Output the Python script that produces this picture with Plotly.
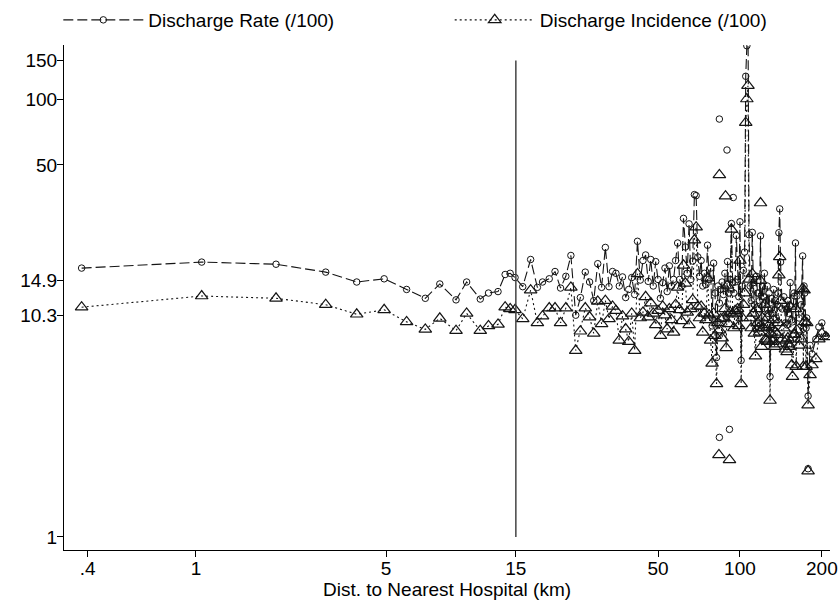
import plotly.graph_objects as go

# ---- data ----
dist = [0.38, 1.05, 1.97, 3.0, 3.9, 4.92, 5.95, 6.97, 7.88, 9.04,
        9.89, 11.1, 11.9, 12.9, 13.7, 14.3, 14.9, 15.9, 17, 18,
        18.8, 19.9, 20.9, 21.9, 22.9, 23.9, 24.9, 25.9, 27, 28,
        29, 30, 31, 32, 33, 34, 35, 36, 37, 38,
        39, 40, 41, 42, 43, 44, 45, 46, 47, 48,
        49, 50, 51, 52, 53, 54, 55, 56, 57, 58,
        59, 60, 61, 62, 63, 64, 65, 66, 67, 68,
        69, 70, 71, 72, 73, 74, 75, 76, 77, 78,
        79, 80, 81, 82, 83, 84, 85, 86, 87, 88,
        89, 90, 91, 92, 93, 94, 95, 96, 97, 98,
        99, 100, 101, 102, 103, 104, 105, 106, 107, 108,
        109, 110, 111, 112, 113, 114, 115, 116, 117, 118,
        119, 120, 121, 122, 123, 124, 125, 126, 127, 128,
        129, 130, 131, 132, 133, 134, 135, 136, 137, 138,
        139, 140, 141, 143, 145, 147, 148, 149, 150, 151,
        152, 153, 155, 156, 158, 159, 160, 161, 162, 165,
        168, 170, 171, 172, 173, 175, 176, 178, 181, 184,
        190, 195, 200, 207]

discharge_rate = [16.9, 18.0, 17.6, 16.2, 14.6, 15.1, 13.5, 12.3, 14.3, 12.1,
                  14.6, 12.2, 13.0, 13.2, 15.8, 16.0, 15.3, 13.9, 18.5, 13.8,
                  14.6, 15.1, 16.3, 13.7, 15.5, 19.3, 10.3, 12.4, 16.2, 14.6,
                  12.0, 17.7, 13.8, 21.0, 13.9, 16.3, 16.0, 14.0, 15.4, 12.4,
                  13.5, 15.3, 12.8, 22.4, 14.9, 18.3, 19.4, 14.7, 18.5, 14.0,
                  18.1, 15.0, 12.3, 14.5, 16.9, 13.2, 17.3, 14.0, 15.0, 18.3,
                  22.0, 15.0, 14.0, 28.5, 21.1, 16.0, 26.9, 15.0, 18.2, 36.6,
                  36.2, 19.0, 15.5, 18.3, 14.0, 16.0, 14.2, 21.5, 15.0, 16.9,
                  9.2, 17.8, 13.0, 6.6, 14.0, 11.7, 13.5, 14.6, 12.8, 16.0,
                  10.1, 18.1, 13.0, 15.0, 27.0, 14.5, 13.0, 14.6, 23.8, 15.0,
                  12.5, 27.5, 6.4, 14.0, 16.5, 20.0, 127, 175, 240, 24,
                  14.0, 12.0, 24.6, 14.5, 11.5, 8.9, 15.5, 13.0, 13.0, 12.0,
                  23.7, 9.0, 14.0, 12.5, 16.0, 11.0, 12.0, 14.0, 10.5, 13.0,
                  5.4, 11.0, 12.3, 10.5, 13.5, 10.9, 12.0, 10.0, 11.5, 13.0,
                  24.5, 31.5, 18.0, 11.0, 12.5, 9.5, 11.0, 9.3, 12.0, 10.5,
                  11.4, 14.5, 9.8, 9.6, 13.0, 12.6, 22.0, 8.0, 12.6, 10.0,
                  11.5, 19.2, 8.9, 14.0, 13.0, 9.0, 10.0, 4.4, 7.5, 6.85,
                  8.0, 9.1, 9.5, 8.3]

discharge_incidence = [11.2, 12.6, 12.3, 11.5, 10.4, 10.9, 9.6, 8.87, 9.97, 8.75,
                       10.5, 8.75, 9.2, 9.35, 11.2, 11.0, 10.9, 9.9, 13.4, 9.5,
                       10.2, 11.1, 11.1, 9.5, 11.1, 13.8, 7.1, 8.7, 11.1, 10.1,
                       8.5, 11.9, 9.4, 12.0, 9.9, 11.3, 10.8, 7.9, 10.2, 8.9,
                       7.8, 10.5, 7.1, 15.9, 10.0, 10.6, 12.5, 10.1, 11.7, 10.5,
                       9.3, 10.8, 8.3, 11.3, 10.3, 8.9, 11.0, 9.8, 8.6, 11.5,
                       13.8, 10.9, 9.7, 17.4, 14.4, 10.6, 9.3, 11.0, 12.1, 22.7,
                       26.0, 11.3, 10.0, 11.3, 8.6, 10.5, 9.8, 15.2, 10.3, 7.9,
                       6.2, 10.5, 8.3, 5.0, 9.5, 8.8, 9.9, 8.1, 10.0, 11.0,
                       7.3, 14.1, 9.4, 10.6, 25.4, 10.4, 9.0, 10.8, 10.5, 11.0,
                       9.2, 18.3, 5.0, 10.0, 11.5, 13.0, 78, 100, 115, 15,
                       10.0, 9.0, 15.9, 10.5, 8.5, 6.7, 11.0, 9.5, 9.0, 8.6,
                       14.8, 7.4, 10.0, 9.0, 11.5, 8.0, 7.9, 10.0, 7.8, 9.3,
                       4.2, 8.5, 9.0, 7.8, 9.8, 7.4, 8.6, 7.6, 8.4, 9.5,
                       15.7, 19.0, 12.0, 8.0, 9.0, 7.2, 7.9, 7.0, 8.1, 7.6,
                       7.4, 11.3, 6.1, 5.4, 8.4, 8.4, 11.0, 6.0, 8.8, 7.5,
                       8.0, 13.6, 6.0, 13.4, 9.6, 6.0, 9.5, 4.0, 5.5, 6.1,
                       6.5, 8.0, 8.5, 8.2]

# isolated (unconnected) observations
iso_rate_dist = [84, 89.6, 94.5, 84, 91.5, 178]
iso_rate = [81, 58.5, 35.5, 2.85, 3.1, 2.05]
iso_inc_dist = [84, 88.5, 119, 83.7, 91.5, 178]
iso_inc = [45, 36, 33.5, 2.37, 2.25, 2.0]

cutoff_x = [15, 15]
cutoff_y = [1, 150]

x_tickvals = [0.4, 1, 5, 15, 50, 100, 200]
x_ticktext = ['.4', '1', '5', '15', '50', '100', '200']
y_tickvals = [1, 10.3, 14.9, 50, 100, 150]
y_ticktext = ['1', '10.3', '14.9', '50', '100', '150']

INK = '#141414'
FONT = 'Liberation Sans, Arial, sans-serif'

fig = go.Figure()

fig.add_trace(go.Scatter(
    x=dist, y=discharge_rate, mode='lines+markers', name='Discharge Rate (/100)',
    legendgroup='rate', legend='legend',
    line=dict(color=INK, width=1.1, dash='10px,4px'),
    marker=dict(symbol='circle-open', size=6.5, color=INK, line=dict(width=1, color=INK)),
))
fig.add_trace(go.Scatter(
    x=dist, y=discharge_incidence, mode='lines+markers', name='Discharge Incidence (/100)',
    legendgroup='inc', legend='legend2',
    line=dict(color=INK, width=1.1, dash='2px,3px'),
    marker=dict(symbol='triangle-up-open', size=11, color=INK, line=dict(width=1.2, color=INK)),
))
fig.add_trace(go.Scatter(
    x=iso_rate_dist, y=iso_rate, mode='markers', legendgroup='rate', showlegend=False,
    marker=dict(symbol='circle-open', size=6.5, color=INK, line=dict(width=1, color=INK)),
))
fig.add_trace(go.Scatter(
    x=iso_inc_dist, y=iso_inc, mode='markers', legendgroup='inc', showlegend=False,
    marker=dict(symbol='triangle-up-open', size=11, color=INK, line=dict(width=1.2, color=INK)),
))
fig.add_trace(go.Scatter(
    x=cutoff_x, y=cutoff_y, mode='lines', showlegend=False, hoverinfo='skip',
    line=dict(color='#444444', width=1.5),
))

legend_common = dict(orientation='h', xref='container', yref='container',
                     xanchor='left', yanchor='middle', y=0.967,
                     font=dict(size=19), itemwidth=80,
                     bgcolor='rgba(0,0,0,0)', itemclick=False)

fig.update_layout(
    width=839, height=606,
    margin=dict(l=64, r=9, t=45, b=56, autoexpand=False),
    paper_bgcolor='white', plot_bgcolor='white',
    font=dict(family=FONT, size=19, color='black'),
    showlegend=True,
    legend=dict(x=0.0695, **legend_common),
    legend2=dict(x=0.536, **legend_common),
    xaxis=dict(type='log', range=[-0.485, 2.331], tickvals=x_tickvals, ticktext=x_ticktext,
               automargin=False, ticklabelstandoff=-5,
               showgrid=False, zeroline=False, showline=True, linecolor='black', linewidth=1,
               ticks='outside', ticklen=6, tickcolor='black', tickfont=dict(size=19),
               title=dict(text='Dist. to Nearest Hospital (km)', font=dict(size=19), standoff=0)),
    yaxis=dict(type='log', range=[-0.0594, 2.2466], tickvals=y_tickvals, ticktext=y_ticktext,
               automargin=False, ticklabelstandoff=-4,
               showgrid=False, zeroline=False, showline=True, linecolor='black', linewidth=1,
               ticks='outside', ticklen=6, tickcolor='black', tickfont=dict(size=19)),
)

fig.write_html('out.html', config={'displayModeBar': False},
               post_script="document.body.style.margin='0';")
